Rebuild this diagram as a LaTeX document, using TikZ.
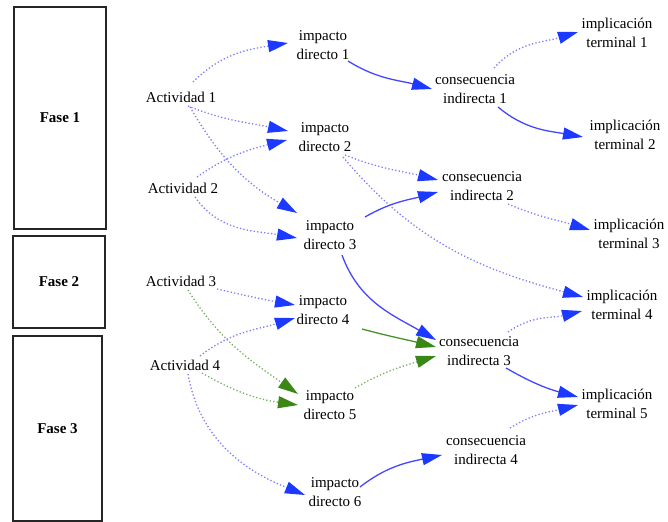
\documentclass[tikz,border=0pt]{standalone}
\usepackage{fontspec}
\setmainfont{Liberation Serif}
\usetikzlibrary{arrows.meta}
\definecolor{tipblue}{RGB}{28,58,255}
\definecolor{lineblue}{RGB}{70,70,255}
\definecolor{dotblue}{RGB}{125,125,255}
\definecolor{tipgreen}{RGB}{58,135,22}
\definecolor{linegreen}{RGB}{70,145,40}
\definecolor{dotgreen}{RGB}{120,175,100}
\begin{document}
\begin{tikzpicture}[x=1bp,y=1bp,
  lbl/.style={font=\fontsize{15bp}{18.5bp}\selectfont, align=center, inner sep=2bp},
  phase/.style={draw=black!85, line width=1.3bp, font=\fontsize{15bp}{18bp}\selectfont\bfseries},
  bluetip/.style={-{Triangle[length=20bp,width=12bp,color=tipblue]}},
  greentip/.style={-{Triangle[length=20bp,width=12bp,color=tipgreen]}},
  dotlink/.style={draw=dotblue, line width=1.3bp, dash pattern=on 1.3bp off 2.2bp, bluetip},
  mainlink/.style={draw=lineblue, line width=1.3bp, bluetip},
  dotglink/.style={draw=dotgreen, line width=1.3bp, dash pattern=on 1.3bp off 2.2bp, greentip},
  mainglink/.style={draw=linegreen, line width=1.3bp, greentip}]
\useasboundingbox (0,0) rectangle (668,-522);

% phase boxes
\node[phase, minimum width=92bp, minimum height=222bp] (f1) at (60,-118) {Fase 1};
\node[phase, minimum width=92bp, minimum height=92bp] (f2) at (59,-282) {Fase 2};
\node[phase, minimum width=89bp, minimum height=185bp] (f3) at (57.5,-428.5) {Fase 3};

% activities
\node[lbl] (a1) at (181,-97) {Actividad 1};
\node[lbl] (a2) at (183,-188) {Actividad 2};
\node[lbl] (a3) at (181,-281) {Actividad 3};
\node[lbl] (a4) at (185,-365) {Actividad 4};

% direct impacts
\node[lbl] (i1) at (323,-45) {impacto\\directo 1};
\node[lbl] (i2) at (325,-137) {impacto\\directo 2};
\node[lbl] (i3) at (330,-235) {impacto\\directo 3};
\node[lbl] (i4) at (323,-310) {impacto\\directo 4};
\node[lbl] (i5) at (330,-405) {impacto\\directo 5};
\node[lbl] (i6) at (335,-492) {impacto\\directo 6};

% indirect consequences
\node[lbl] (c1) at (475,-89) {consecuencia\\indirecta 1};
\node[lbl] (c2) at (482,-186) {consecuencia\\indirecta 2};
\node[lbl] (c3) at (479,-351) {consecuencia\\indirecta 3};
\node[lbl] (c4) at (486,-450) {consecuencia\\indirecta 4};

% terminal implications
\node[lbl] (t1) at (617,-33) {implicación\\terminal 1};
\node[lbl] (t2) at (625,-135) {implicación\\terminal 2};
\node[lbl] (t3) at (629,-234) {implicación\\terminal 3};
\node[lbl] (t4) at (622,-305) {implicación\\terminal 4};
\node[lbl] (t5) at (617,-404) {implicación\\terminal 5};

% activities to direct impacts
\draw[dotlink] ([shift={(12,15)}]a1.center) to[out=45,in=189] ([shift={(-35,2)}]i1.center);
\draw[dotlink] ([shift={(7,-9)}]a1.center) to[out=-22,in=168] ([shift={(-37,6)}]i2.center);
\draw[dotlink] ([shift={(9,-10)}]a1.center) to[out=-60,in=150] ([shift={(-33,22)}]i3.center);
\draw[dotlink] ([shift={(14,11)}]a2.center) to[out=35,in=194] ([shift={(-38,-3)}]i2.center);
\draw[dotlink] ([shift={(12,-9)}]a2.center) to[out=-55,in=170] ([shift={(-33,-3)}]i3.center);
\draw[dotlink] ([shift={(36,-8)}]a3.center) to[out=-13,in=170] ([shift={(-28,5)}]i4.center);
\draw[dotlink] ([shift={(15,9)}]a4.center) to[out=38,in=197] ([shift={(-28,-8)}]i4.center);
\draw[dotglink] ([shift={(7,-9)}]a3.center) to[out=-58,in=145] ([shift={(-32,11)}]i5.center);
\draw[dotglink] ([shift={(17,-8)}]a4.center) to[out=-30,in=172] ([shift={(-32,0)}]i5.center);
\draw[dotlink] ([shift={(3,-9)}]a4.center) to[out=-80,in=158] ([shift={(-30,-3)}]i6.center);

% direct impacts onwards
\draw[mainlink] ([shift={(25,-16)}]i1.center) to[out=-32,in=165] ([shift={(-43,0)}]c1.center);
\draw[dotlink] ([shift={(20,-18)}]i2.center) to[out=-22,in=166] ([shift={(-44,6)}]c2.center);
\draw[dotlink] ([shift={(18,-20)}]i2.center) to[out=-50,in=165] ([shift={(-39,8)}]t4.center);
\draw[mainlink] ([shift={(35,18)}]i3.center) to[out=30,in=195] ([shift={(-44,-6)}]c2.center);
\draw[mainlink] ([shift={(12,-20)}]i3.center) to[out=-70,in=150] ([shift={(-43,11)}]c3.center);
\draw[mainglink] ([shift={(39,-19)}]i4.center) to[out=-15,in=166] ([shift={(-43,4)}]c3.center);
\draw[dotglink] ([shift={(25,17)}]i5.center) to[out=30,in=197] ([shift={(-43,-5)}]c3.center);
\draw[mainlink] ([shift={(25,5)}]i6.center) to[out=38,in=192] ([shift={(-44,-5)}]c4.center);

% consequences to terminal implications
\draw[dotlink] ([shift={(19,21)}]c1.center) to[out=48,in=197] ([shift={(-39,1)}]t1.center);
\draw[mainlink] ([shift={(23,-18)}]c1.center) to[out=-40,in=170] ([shift={(-42,-2)}]t2.center);
\draw[dotlink] ([shift={(26,-18)}]c2.center) to[out=-23,in=163] ([shift={(-39,4)}]t3.center);
\draw[dotlink] ([shift={(29,19)}]c3.center) to[out=35,in=194] ([shift={(-40,-6)}]t4.center);
\draw[mainlink] ([shift={(27,-17)}]c3.center) to[out=-30,in=165] ([shift={(-39,7)}]t5.center);
\draw[dotlink] ([shift={(24,22)}]c4.center) to[out=32,in=194] ([shift={(-39,-1)}]t5.center);
\end{tikzpicture}
\end{document}
